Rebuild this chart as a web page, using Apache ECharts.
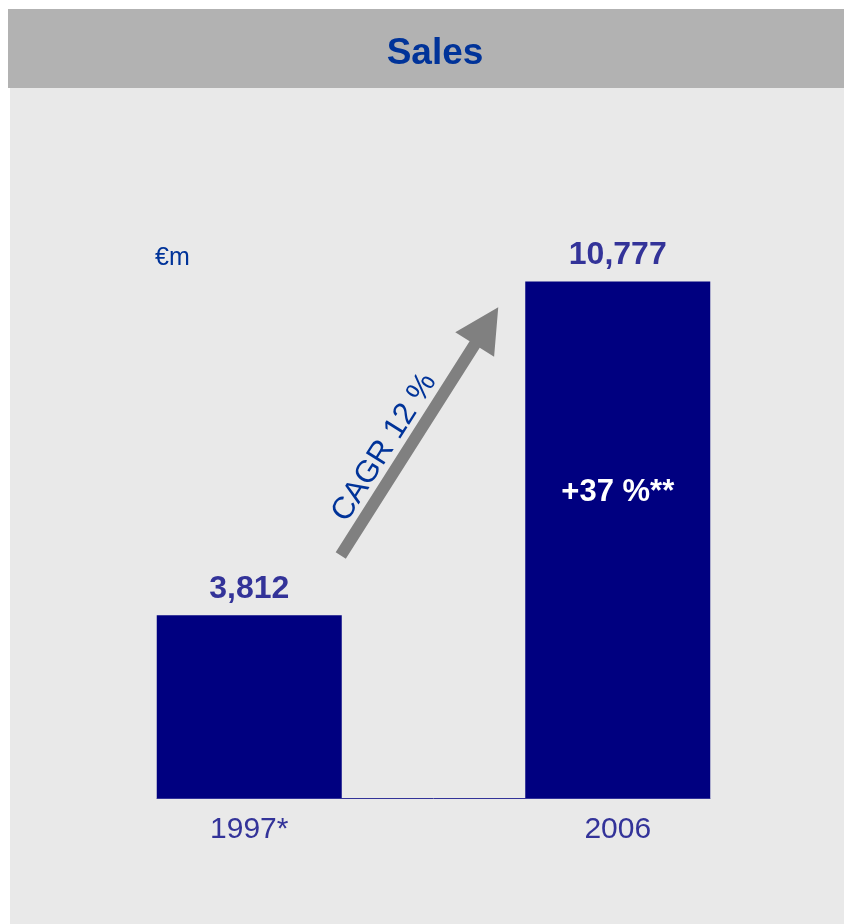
<!DOCTYPE html>
<html>
<head>
<meta charset="utf-8">
<title>Sales</title>
<script src="https://cdn.jsdelivr.net/npm/echarts@6/dist/echarts.min.js"></script>
<style>
  html, body { margin: 0; padding: 0; background: #ffffff; }
  #wrap { position: relative; width: 844px; height: 924px; overflow: hidden; }
  #titleBar { position: absolute; left: 8px; top: 9px; width: 836px; height: 79px; background: #b2b2b2; }
  #panel { position: absolute; left: 10px; top: 88px; width: 834px; height: 836px; background: #e9e9e9; }
  #chart { position: absolute; left: 0; top: 0; width: 844px; height: 924px; }
</style>
</head>
<body>
<div id="wrap">
  <div id="titleBar"></div>
  <div id="panel"></div>
  <div id="chart"></div>
</div>
<script>
// Sales in € million
const categories = ['1997*', '2006'];
const sales = [3812, 10777];
const growthNotes = ['', '+37 %**'];
const cagrText = 'CAGR 12 %';
const unitText = '€m';
const titleText = 'Sales';

const FONT = "'Liberation Sans', Arial, Helvetica, sans-serif";
const BAR_COLOR = '#000080';
const LABEL_COLOR = '#333399';
const TITLE_COLOR = '#003399';
const BAR_WIDTH = 185;

const chart = echarts.init(document.getElementById('chart'), null, { renderer: 'canvas' });

chart.setOption({
  animation: false,
  backgroundColor: 'transparent',
  textStyle: { fontFamily: FONT },
  title: [
    {
      text: titleText,
      left: 430,
      top: 30,
      textAlign: 'center',
      textStyle: { color: TITLE_COLOR, fontSize: 37, fontWeight: 'bold', fontFamily: FONT }
    },
    {
      text: unitText,
      left: 150,
      top: 241,
      textStyle: { color: TITLE_COLOR, fontSize: 25, fontWeight: 'normal', fontFamily: FONT }
    }
  ],
  grid: [
    { left: 65, right: 42, top: 223, bottom: 126 },
    { left: 157, right: 134, top: 223, bottom: 126 }
  ],
  xAxis: [
    {
      type: 'category',
      gridIndex: 0,
      data: categories,
      axisLine: { show: false },
      axisTick: { show: false },
      axisLabel: { color: LABEL_COLOR, fontSize: 30, margin: 17, fontFamily: FONT }
    },
    {
      // baseline under the bars
      type: 'category',
      gridIndex: 1,
      data: [''],
      axisLine: { show: true, lineStyle: { color: LABEL_COLOR, width: 1 } },
      axisTick: { show: false },
      axisLabel: { show: false }
    }
  ],
  yAxis: [
    { type: 'value', gridIndex: 0, min: 0, max: 12000, show: false },
    { type: 'value', gridIndex: 1, min: 0, max: 1, show: false }
  ],
  series: [
    {
      type: 'bar',
      xAxisIndex: 0,
      yAxisIndex: 0,
      data: sales,
      barWidth: BAR_WIDTH,
      itemStyle: { color: BAR_COLOR },
      label: {
        show: true,
        position: 'top',
        distance: 10,
        color: LABEL_COLOR,
        fontSize: 32,
        fontWeight: 'bold',
        fontFamily: FONT,
        formatter: p => p.value.toLocaleString('en-US')
      }
    },
    {
      type: 'bar',
      xAxisIndex: 0,
      yAxisIndex: 0,
      data: sales,
      barWidth: BAR_WIDTH,
      barGap: '-100%',
      silent: true,
      z: 3,
      itemStyle: { color: 'transparent' },
      label: {
        show: true,
        position: 'inside',
        offset: [0, -47],
        color: '#ffffff',
        fontSize: 31,
        fontWeight: 'bold',
        fontFamily: FONT,
        formatter: p => growthNotes[p.dataIndex]
      }
    }
  ]
});

// Growth arrow between the two bars, placed from the value scale
function drawArrow() {
  const tailPx = chart.convertToPixel({ xAxisIndex: 0, yAxisIndex: 0 }, [0, 5060]);
  const tipPx = chart.convertToPixel({ xAxisIndex: 0, yAxisIndex: 0 }, [1, 10240]);
  const tail = [tailPx[0] + BAR_WIDTH / 2 - 1, tailPx[1]];
  const tip = [tipPx[0] - BAR_WIDTH / 2 - 27, tipPx[1]];

  const dx = tip[0] - tail[0], dy = tip[1] - tail[1];
  const len = Math.sqrt(dx * dx + dy * dy);
  const u = [dx / len, dy / len];
  const n = [-u[1], u[0]];
  const shaft = 6, head = 23, headLen = 44;
  const base = [tip[0] - u[0] * headLen, tip[1] - u[1] * headLen];
  const pt = (p, k) => [p[0] + n[0] * k, p[1] + n[1] * k];
  const points = [
    pt(tail, shaft), pt(base, shaft), pt(base, head), tip,
    pt(base, -head), pt(base, -shaft), pt(tail, -shaft)
  ];

  const t = 0.39;
  const mid = [tail[0] + dx * t, tail[1] + dy * t];
  const textPos = [mid[0] - n[0] * 21, mid[1] - n[1] * 21];
  const angle = Math.atan2(-dy, dx);

  chart.setOption({
    graphic: [
      {
        type: 'polygon',
        silent: true,
        shape: { points: points },
        style: { fill: '#808080' }
      },
      {
        type: 'text',
        silent: true,
        x: textPos[0],
        y: textPos[1],
        rotation: angle,
        style: {
          text: cagrText,
          x: 0,
          y: 0,
          align: 'center',
          verticalAlign: 'middle',
          fill: TITLE_COLOR,
          fontSize: 31,
          fontFamily: FONT
        }
      }
    ]
  });
}
drawArrow();
</script>
</body>
</html>
